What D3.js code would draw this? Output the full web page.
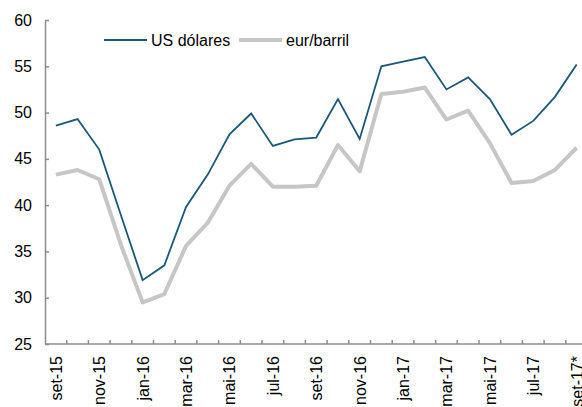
<!DOCTYPE html>
<html>
    <head>
        <meta charset="utf-8">
        <script src="https://d3js.org/d3.v7.js"></script>
        <style>
            body{
                margin: 0;
                background: #fff;
            }
            svg text{
                font-family: 'Liberation Sans', Arial, sans-serif;
                fill: #000;
            }
            .axis path, .axis line{
                stroke: #8c8c8c;
                stroke-width: 1.5;
            }
        </style>
    </head>
    <body>
        <div class="graph">
            <script>
                const w = 582
                const h = 407

                const months = ['set-15','out-15','nov-15','dez-15','jan-16','fev-16','mar-16','abr-16','mai-16','jun-16','jul-16','ago-16',
                                'set-16','out-16','nov-16','dez-16','jan-17','fev-17','mar-17','abr-17','mai-17','jun-17','jul-17','ago-17','set-17*']
                const usd = [48.6,49.3,46.0,38.9,31.9,33.5,39.8,43.3,47.65,49.9,46.4,47.1,
                             47.3,51.45,47.15,55.0,55.5,56.0,52.5,53.8,51.45,47.6,49.1,51.7,55.2]
                const eur = [43.3,43.8,42.8,35.7,29.5,30.4,35.6,38.1,42.1,44.45,42.0,42.0,
                             42.1,46.5,43.65,52.0,52.25,52.7,49.25,50.2,46.7,42.4,42.6,43.8,46.2]
                const yTicks = [25,30,35,40,45,50,55,60]
                const seriesNames = ['US dólares', 'eur/barril']

                const svg = d3.select('.graph')
                        .append('svg')
                        .attr('width', w)
                        .attr('height', h)

                const x = d3.scaleBand()
                            .domain(months)
                            .range([45, 45 + 25 * 21.7])
                const y = d3.scaleLinear()
                            .domain([25, 60])
                            .range([344, 20])

                const cx = d => x(d) + x.bandwidth() / 2

                // y axis, ticks point inward
                const yAxis = svg.append('g')
                    .attr('class', 'axis')
                    .attr('transform', 'translate(45,0)')
                    .call(d3.axisLeft(y).tickValues(yTicks).tickSize(-4).tickSizeOuter(0).tickPadding(13))
                yAxis.selectAll('text').style('font-size', '16px')

                // x axis: ticks on band edges, labels every second month
                const xAxis = svg.append('g')
                    .attr('class', 'axis')
                    .attr('transform', 'translate(0,344)')
                xAxis.append('line')
                    .attr('x1', 45).attr('x2', w)
                xAxis.selectAll('.tk')
                    .data(months.slice(1))
                    .enter()
                    .append('line')
                    .attr('class', 'tk')
                    .attr('x1', d => x(d)).attr('x2', d => x(d))
                    .attr('y1', 0).attr('y2', -4)
                xAxis.selectAll('text')
                    .data(months.filter((d, i) => i % 2 === 0))
                    .enter()
                    .append('text')
                    .attr('transform', d => 'translate(' + (cx(d) + 6) + ',12) rotate(-90)')
                    .attr('text-anchor', 'end')
                    .style('font-size', '16px')
                    .text(d => d)

                const line = d3.line()
                                .x((d, i) => cx(months[i]))
                                .y(d => y(d))

                svg.append('path')
                    .datum(eur)
                    .attr('d', line)
                    .attr('fill', 'none')
                    .attr('stroke', '#c6c6c6')
                    .attr('stroke-width', 4)
                    .attr('stroke-linejoin', 'round')

                svg.append('path')
                    .datum(usd)
                    .attr('d', line)
                    .attr('fill', 'none')
                    .attr('stroke', '#1b5878')
                    .attr('stroke-width', 1.8)

                // legend
                const legend = svg.append('g')
                const items = [
                    {name: seriesNames[0], colour: '#1b5878', width: 1.8, x: 104},
                    {name: seriesNames[1], colour: '#c6c6c6', width: 4, x: 239}
                ]
                items.forEach(it => {
                    legend.append('line')
                        .attr('x1', it.x).attr('x2', it.x + 43)
                        .attr('y1', 40).attr('y2', 40)
                        .attr('stroke', it.colour)
                        .attr('stroke-width', it.width)
                    legend.append('text')
                        .attr('x', it.x + 47)
                        .attr('y', 46)
                        .style('font-size', '16px')
                        .text(it.name)
                })
            </script>
        </div>
    </body>
</html>
